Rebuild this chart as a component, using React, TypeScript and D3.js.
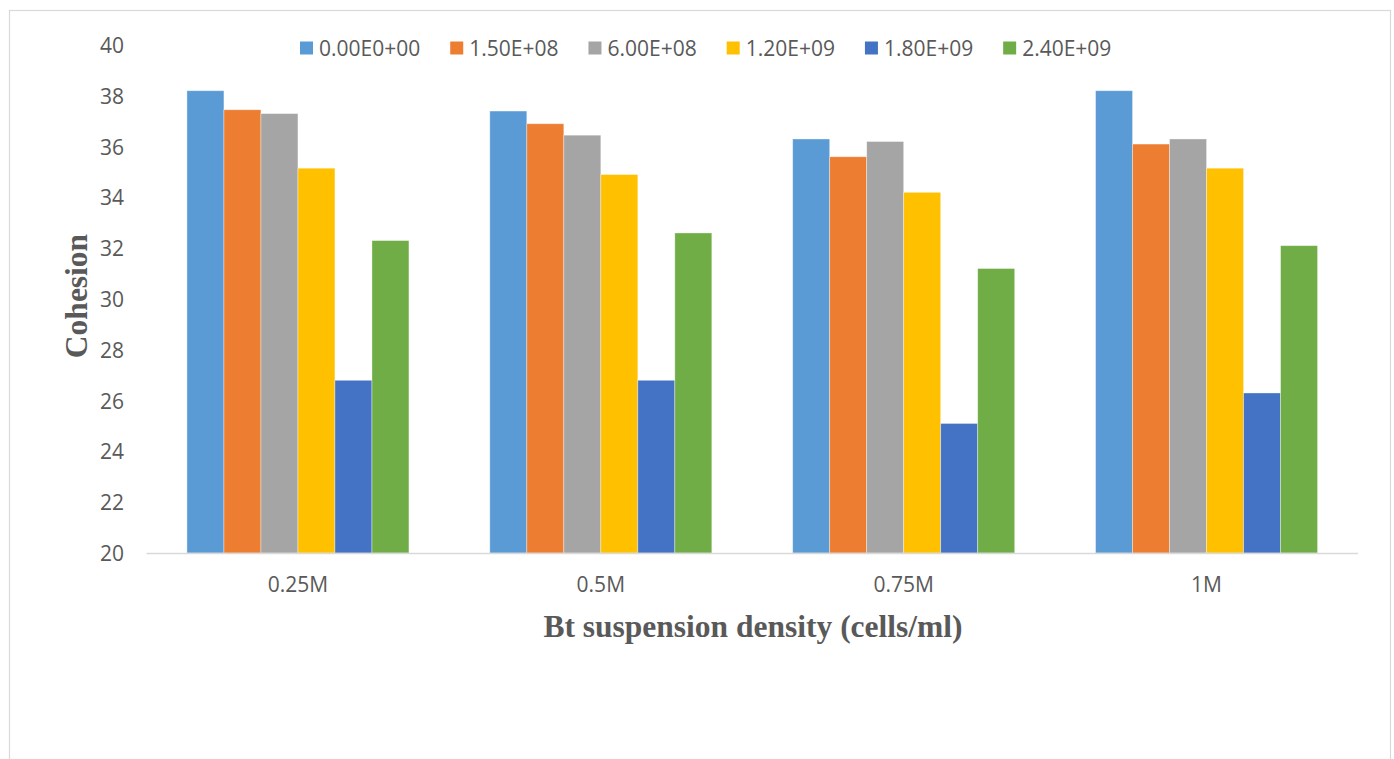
import React, { useEffect, useMemo } from "react";
import * as d3 from "d3";

// Bt suspension density groups on the x axis
const categories = ["0.25M", "0.5M", "0.75M", "1M"];

// Series names (spore concentrations) shown in the legend
const seriesNames = ["0.00E0+00", "1.50E+08", "6.00E+08", "1.20E+09", "1.80E+09", "2.40E+09"];

// Cohesion values per series, one entry per category
const s0 = [38.2, 37.4, 36.3, 38.2];
const s1 = [37.45, 36.9, 35.6, 36.1];
const s2 = [37.3, 36.45, 36.2, 36.3];
const s3 = [35.15, 34.9, 34.2, 35.15];
const s4 = [26.8, 26.8, 25.1, 26.3];
const s5 = [32.3, 32.6, 31.2, 32.1];
const seriesValues = [s0, s1, s2, s3, s4, s5];

const yTicks = [20, 22, 24, 26, 28, 30, 32, 34, 36, 38, 40];

const colors = ["#5B9BD5", "#ED7D31", "#A5A5A5", "#FFC000", "#4472C4", "#70AD47"];

const W = 1394;
const H = 759;
const TEXT = "#595959";
const SANS = "'Open Sans', 'Noto Sans', sans-serif";
const SERIF = "'Liberation Serif', 'DejaVu Serif', serif";

export default function App() {
  useEffect(() => {
    document.body.style.margin = "0";
  }, []);

  const x0 = d3.scaleBand<string>().domain(categories).range([146.5, 1358]).padding(0);
  const groupFrac = 0.733;
  const groupW = x0.bandwidth() * groupFrac;
  const x1 = d3
    .scaleBand<string>()
    .domain(seriesNames)
    .range([(x0.bandwidth() - groupW) / 2, (x0.bandwidth() + groupW) / 2])
    .padding(0);
  const y = d3.scaleLinear().domain([20, 40]).range([553, 45]);

  // legend layout from measured text widths
  const legend = useMemo(() => {
    const ctx = document.createElement("canvas").getContext("2d");
    const fontSize = 21;
    if (ctx) ctx.font = `${fontSize}px 'Open Sans'`;
    let cx = 300;
    return seriesNames.map((name) => {
      const tw = ctx ? ctx.measureText(name).width : name.length * 11.5;
      const item = { name, x: cx, tx: cx + 19 };
      cx += 19 + tw + 30;
      return item;
    });
  }, []);

  return (
    <svg width={W} height={H} style={{ display: "block", background: "#fff" }}>
      {/* chart frame */}
      <rect x={9.5} y={10.5} width={1381} height={760} fill="#fff" stroke="#D9D9D9" strokeWidth={1.2} />

      {/* y tick labels */}
      {yTicks.map((t) => (
        <text
          key={t}
          x={124}
          y={y(t)}
          textAnchor="end"
          dominantBaseline="central"
          fontFamily={SANS}
          fontSize={21}
          fill={TEXT}
        >
          {t}
        </text>
      ))}

      {/* bars */}
      {categories.map((c, ci) => (
        <g key={c} transform={`translate(${x0(c)},0)`}>
          {seriesNames.map((s, si) => {
            const v = seriesValues[si][ci];
            return (
              <rect
                key={s}
                x={x1(s)}
                y={y(v)}
                width={x1.bandwidth()}
                height={y(20) - y(v)}
                fill={colors[si]}
                stroke="#ffffff"
                strokeOpacity={0.45}
                strokeWidth={0.8}
              />
            );
          })}
        </g>
      ))}

      {/* x axis line */}
      <line x1={146.5} x2={1358} y1={553.5} y2={553.5} stroke="#D9D9D9" strokeWidth={1.5} />

      {/* x tick labels */}
      {categories.map((c) => (
        <text
          key={c}
          x={(x0(c) as number) + x0.bandwidth() / 2}
          y={592}
          textAnchor="middle"
          fontFamily={SANS}
          fontSize={21}
          fill={TEXT}
        >
          {c}
        </text>
      ))}

      {/* axis titles */}
      <text
        x={753}
        y={637}
        textAnchor="middle"
        fontFamily={SERIF}
        fontWeight="bold"
        fontSize={31.5}
        fill={TEXT}
      >
        Bt suspension density (cells/ml)
      </text>
      <text
        transform={`translate(87,296) rotate(-90)`}
        textAnchor="middle"
        fontFamily={SERIF}
        fontWeight="bold"
        fontSize={31.5}
        fill={TEXT}
      >
        Cohesion
      </text>

      {/* legend */}
      {legend.map((l, i) => (
        <g key={l.name}>
          <rect x={l.x} y={41.5} width={13} height={13} fill={colors[i]} />
          <text x={l.tx} y={48} dominantBaseline="central" fontFamily={SANS} fontSize={21} fill={TEXT}>
            {l.name}
          </text>
        </g>
      ))}
    </svg>
  );
}
